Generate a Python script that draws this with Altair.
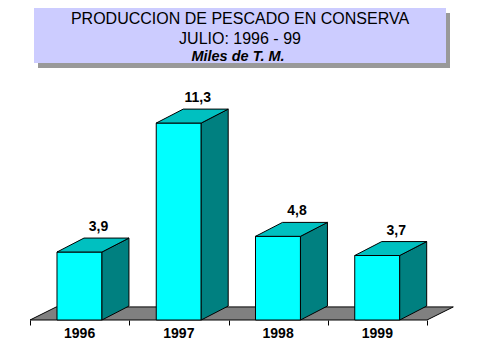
import altair as alt
import pandas as pd

# ---- data ----
years = ["1996", "1997", "1998", "1999"]
values = [3.9, 11.3, 4.8, 3.7]
value_labels = ["3,9", "11,3", "4,8", "3,7"]
title_lines = ["PRODUCCION DE PESCADO EN CONSERVA", "JULIO: 1996 - 99", "Miles de T. M."]

# ---- 3D geometry (in band / value units) ----
OFF, BW = 0.272, 0.453      # bar front offset & width inside each category band
DX, DY = 0.272, 0.80        # bar depth
FDX, FDY = 0.265, 0.75      # floor depth
N = len(years)

FONT = "Liberation Sans"
W, H = 397, 312
YMAX = 17.9

front, side, top, labels = [], [], [], []
for i, (yr, v, lab) in enumerate(zip(years, values, value_labels)):
    xl, xr = i + OFF, i + OFF + BW
    front.append({"year": yr, "x": xl, "x2": xr, "y": 0.0, "y2": v})
    side.append({"year": yr, "x": xr, "y": 0.0, "y2": v})
    side.append({"year": yr, "x": xr + DX, "y": DY, "y2": v + DY})
    top.append({"year": yr, "y": v, "x": xl, "x2": xr})
    top.append({"year": yr, "y": v + DY, "x": xl + DX, "x2": xr + DX})
    labels.append({"year": yr, "x": (xl + xr) / 2, "y": v, "label": lab, "xc": i + 0.5, "y0": 0.0})

floor = pd.DataFrame([
    {"y": 0.0, "x": 0.0, "x2": float(N)},
    {"y": FDY, "x": FDX, "x2": N + FDX},
])
front = pd.DataFrame(front)
side = pd.DataFrame(side)
top = pd.DataFrame(top)
labels = pd.DataFrame(labels)
tdf = pd.DataFrame({"line": title_lines, "row": [0, 1, 2]})

xscale = alt.Scale(domain=[0, N], nice=False, zero=False)
yscale = alt.Scale(domain=[0, YMAX], nice=False, zero=True)
xaxis = alt.Axis(values=list(range(N + 1)), labels=False, domain=False, grid=False,
                 ticks=True, tickSize=5, tickColor="black", tickWidth=1, title=None)


def X(field):
    return alt.X(field, type="quantitative", scale=xscale, axis=xaxis)


def Y(field):
    return alt.Y(field, type="quantitative", scale=yscale, axis=None)


floor_layer = alt.Chart(floor).mark_area(
    orient="horizontal", fill="#808080", stroke="black", strokeWidth=1, opacity=1
).encode(y=Y("y"), x=X("x"), x2="x2")

front_layer = alt.Chart(front).mark_rect(
    fill="#00FFFF", stroke="black", strokeWidth=1
).encode(x=X("x"), x2="x2", y=Y("y"), y2="y2")

side_layer = alt.Chart(side).mark_area(
    orient="vertical", fill="#008080", stroke="black", strokeWidth=1, opacity=1
).encode(x=X("x"), y=Y("y"), y2="y2", detail="year:N")

top_layer = alt.Chart(top).mark_area(
    orient="horizontal", fill="#00C0C0", stroke="black", strokeWidth=1, opacity=1
).encode(y=Y("y"), x=X("x"), x2="x2", detail="year:N")

value_text = alt.Chart(labels).mark_text(
    font=FONT, fontSize=14, fontWeight="bold", color="black",
    align="center", baseline="middle", dx=19, dy=-25
).encode(x=X("x"), y=Y("y"), text="label:N")

year_text = alt.Chart(labels).mark_text(
    font=FONT, fontSize=14, fontWeight="bold", color="black",
    align="center", baseline="middle", dy=14
).encode(x=X("xc"), y=Y("y0"), text="year:N")

dummy = alt.Data(values=[{}])
shadow = alt.Chart(dummy).mark_rect(fill="#999999").encode(
    x=alt.value(8), x2=alt.value(420), y=alt.value(5), y2=alt.value(60))
box = alt.Chart(dummy).mark_rect(fill="#CCCCFF").encode(
    x=alt.value(4), x2=alt.value(416), y=alt.value(0), y2=alt.value(55))

t1 = alt.Chart(tdf).transform_filter("datum.row == 0").mark_text(
    font=FONT, fontSize=16, color="black", align="center", baseline="middle"
).encode(x=alt.value(210), y=alt.value(11), text="line:N")
t2 = alt.Chart(tdf).transform_filter("datum.row == 1").mark_text(
    font=FONT, fontSize=16, color="black", align="center", baseline="middle"
).encode(x=alt.value(210), y=alt.value(31), text="line:N")
t3 = alt.Chart(tdf).transform_filter("datum.row == 2").mark_text(
    font=FONT, fontSize=14.5, fontWeight="bold", fontStyle="italic", color="black",
    align="center", baseline="middle"
).encode(x=alt.value(208), y=alt.value(49), text="line:N")

chart = alt.layer(
    floor_layer, front_layer, side_layer, top_layer, value_text, year_text,
    shadow, box, t1, t2, t3
).properties(
    width=W, height=H,
    autosize=alt.AutoSizeParams(type="none"),
    padding={"left": 22, "top": 0, "right": 30, "bottom": 24},
    background="white",
).configure_view(stroke=None)

chart.save("out.html", embed_options={"renderer": "svg", "actions": False})
